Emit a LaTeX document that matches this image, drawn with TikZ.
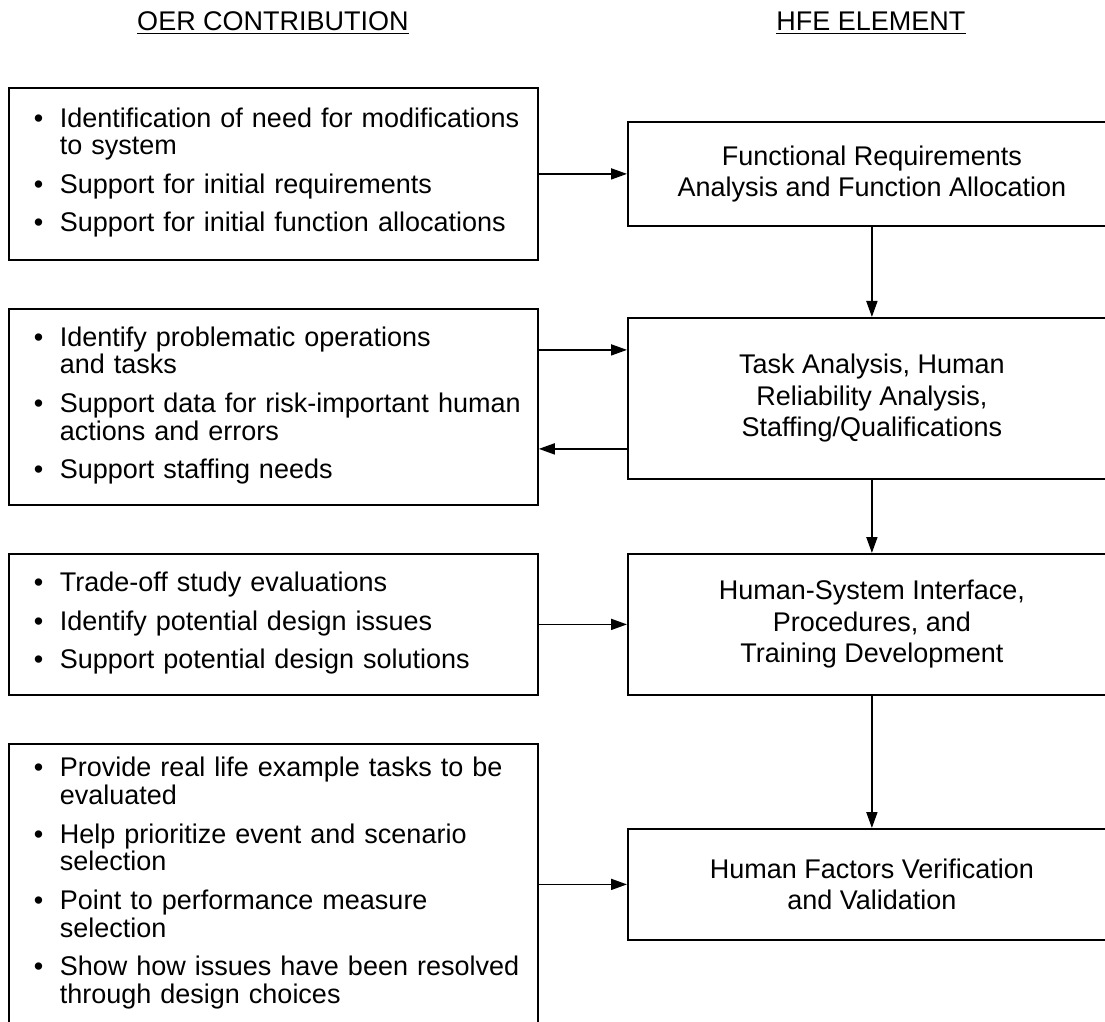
\documentclass[tikz,border=0pt]{standalone}
\usepackage{fontspec}
\setmainfont{Liberation Sans}
\usetikzlibrary{arrows.meta,calc}

\newcommand{\oerlist}[1]{\begin{tabular}{@{}p{13pt}@{}l@{}}#1\end{tabular}}

\begin{document}
\begin{tikzpicture}[->,>={Triangle[length=8pt,width=5.5pt]},x=0.5pt,y=-0.5pt,
		line width=0.9pt,
		every node/.style={font=\fontsize{13.5}{13.5}\selectfont},
		oerbox/.style={draw,anchor=north west,text width=239.5pt,inner xsep=12.5pt,align=left},
		hfebox/.style={draw,anchor=north west,minimum width=244pt,align=center,
			font=\fontsize{13.5}{15.75}\selectfont}]

		\useasboundingbox (0,0) rectangle (1105,1022);

		% column titles
		\node (OERhead) at (273,23) {\underline{OER CONTRIBUTION}};
		\node (HFEhead) at (871,23) {\underline{HFE ELEMENT}};

		% OER contribution boxes
		\node[oerbox, minimum height=86pt] (L1) at (8,87) {\oerlist{
				\textbullet & Identification of need for modifications\\
				& to system\\[5.5pt]
				\textbullet & Support for initial requirements\\[5.5pt]
				\textbullet & Support for initial function allocations}};
		\node[oerbox, minimum height=98pt] (L2) at (8,308) {\oerlist{
				\textbullet & Identify problematic operations\\
				& and tasks\\[5.5pt]
				\textbullet & Support data for risk-important human\\
				& actions and errors\\[5.5pt]
				\textbullet & Support staffing needs}};
		\node[oerbox, minimum height=70.5pt] (L3) at (8,553) {\oerlist{
				\textbullet & Trade-off study evaluations\\[5.5pt]
				\textbullet & Identify potential design issues\\[5.5pt]
				\textbullet & Support potential design solutions}};
		\node[oerbox, minimum height=140.5pt] (L4) at (8,743) {\oerlist{
				\textbullet & Provide real life example tasks to be\\
				& evaluated\\[5.5pt]
				\textbullet & Help prioritize event and scenario\\
				& selection\\[5.5pt]
				\textbullet & Point to performance measure\\
				& selection\\[5.5pt]
				\textbullet & Show how issues have been resolved\\
				& through design choices}};

		% HFE element boxes
		\node[hfebox, minimum height=52pt] (R1) at (627,121)
			{Functional Requirements\\Analysis and Function Allocation};
		\node[hfebox, minimum height=80.5pt] (R2) at (627,317)
			{Task Analysis, Human\\Reliability Analysis,\\Staffing/Qualifications};
		\node[hfebox, minimum height=70.5pt] (R3) at (627,553)
			{Human-System Interface,\\Procedures, and\\Training Development};
		\node[hfebox, minimum height=55.5pt] (R4) at (627,828)
			{Human Factors Verification\\and Validation};

		\path (L1) edge (R1)
		(L3) edge (R3)
		(L4) edge (R4)
		(R1) edge (R2)
		(R2) edge (R3)
		(R3) edge (R4);
		\draw ($(L2.east)+(0,-57)$) -- ($(L2.east -| R2.west)+(0,-57)$);
		\draw ($(L2.east -| R2.west)+(0,42)$) -- ($(L2.east)+(0,42)$);
	\end{tikzpicture}
\end{document}
